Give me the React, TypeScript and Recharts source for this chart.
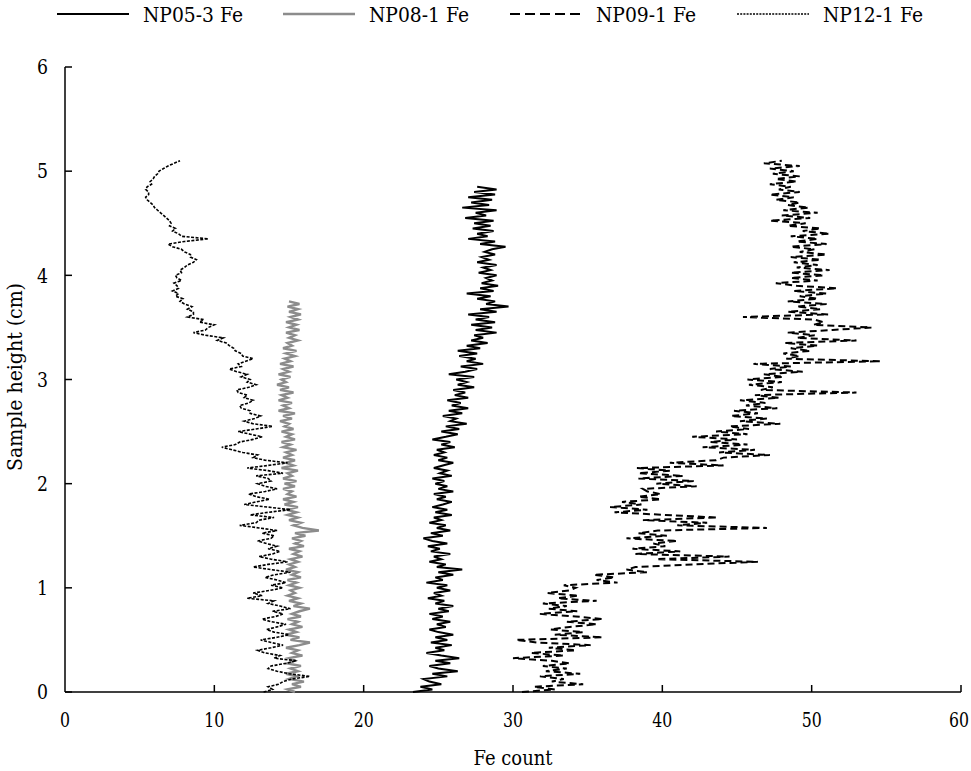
import React from 'react';
import { ScatterChart, Scatter, XAxis, YAxis } from "recharts"

const FONT = "'DejaVu Serif', 'Liberation Serif', 'Times New Roman', serif"

// sampling grids (cm)
const NP05_STEP = 0.025
const NP08_STEP = 0.025
const NP09_STEP = 0.025
const NP12_STEP = 0.025

// Fe counts, bottom to top
const np05 = [
  23.3, 24.6, 23.8, 25.2, 24.4, 24.0, 25.6, 24.6, 26.3, 25.0,
  24.4, 25.8, 24.8, 26.4, 25.2, 24.2, 25.4, 24.8, 25.9, 24.5,
  25.6, 24.8, 26.0, 25.0, 24.4, 25.5, 24.9, 25.8, 24.6, 25.3,
  24.4, 25.7, 25.0, 26.0, 24.8, 25.4, 24.3, 25.2, 24.7, 25.8,
  24.9, 25.6, 24.2, 25.3, 24.8, 26.0, 25.0, 26.6, 24.9, 25.5,
  24.4, 25.2, 24.7, 25.8, 24.5, 25.1, 24.3, 25.6, 24.6, 24.0,
  25.3, 24.5, 25.8, 24.9, 25.5, 24.4, 25.2, 24.7, 25.9, 24.8,
  25.6, 24.6, 25.3, 25.9, 24.9, 25.5, 24.7, 26.0, 25.0, 25.6,
  24.8, 25.4, 24.6, 25.9, 25.1, 25.6, 24.7, 25.3, 26.0, 25.0,
  25.6, 24.7, 25.4, 24.9, 26.1, 25.2, 25.8, 24.6, 25.5, 26.3,
  25.2, 26.4, 25.5, 26.9, 25.8, 26.2, 25.3, 26.6, 25.7, 27.0,
  25.9, 26.5, 25.6, 27.0, 26.1, 26.8, 26.0, 27.4, 26.3, 26.9,
  26.2, 27.4, 25.7, 26.8, 27.6, 26.5, 28.0, 26.9, 27.5, 26.4,
  27.6, 26.3, 27.8, 26.9, 28.3, 27.2, 28.0, 27.4, 28.9, 27.5,
  28.6, 27.2, 28.8, 27.5, 28.4, 27.0, 28.9, 27.8, 29.7, 28.2,
  28.8, 27.6, 28.5, 26.9, 28.7, 27.8, 29.0, 27.9, 28.6, 28.2,
  28.9, 27.7, 28.5, 28.0, 28.9, 27.6, 28.4, 27.9, 28.8, 28.1,
  28.6, 29.5, 27.8, 28.8, 27.0, 28.3, 27.6, 28.7, 27.3, 28.5,
  27.4, 28.7, 26.8, 28.2, 27.5, 28.9, 26.6, 28.4, 27.2, 28.6,
  27.0, 28.8, 27.4, 28.9, 27.6,
]

const np08 = [
  15.4, 14.9, 15.8, 15.2, 16.0, 15.0, 15.5, 14.8, 15.6, 15.1,
  15.8, 14.9, 15.4, 15.0, 15.9, 15.2, 15.6, 14.8, 15.7, 16.4,
  15.1, 15.7, 14.8, 15.5, 15.0, 15.9, 15.2, 15.6, 14.9, 15.8,
  15.2, 15.7, 16.4, 15.3, 15.8, 15.0, 15.6, 14.9, 15.4, 15.1,
  15.7, 15.0, 15.5, 14.9, 15.8, 15.2, 15.6, 14.8, 15.4, 15.0,
  15.6, 15.1, 15.9, 15.3, 15.7, 15.0, 16.0, 15.4, 15.8, 15.2,
  16.1, 15.4, 17.0, 15.9, 15.3, 15.8, 15.0, 15.6, 14.9, 15.5,
  14.8, 15.6, 14.7, 15.3, 14.6, 15.5, 14.9, 15.2, 14.6, 15.4,
  14.7, 15.5, 14.6, 15.2, 14.9, 15.6, 14.5, 15.3, 14.8, 15.4,
  14.6, 15.2, 14.8, 15.5, 14.6, 15.1, 14.5, 15.4, 14.8, 15.2,
  14.5, 15.3, 14.7, 15.0, 14.4, 15.2, 14.6, 15.4, 14.3, 15.0,
  14.6, 15.2, 14.3, 14.9, 14.5, 15.3, 14.4, 15.0, 14.2, 14.8,
  14.5, 15.1, 14.3, 15.0, 14.6, 15.3, 14.4, 15.1, 14.7, 15.4,
  14.8, 15.5, 14.6, 15.2, 14.9, 15.6, 15.0, 15.4, 14.8, 15.7,
  15.0, 15.5, 14.8, 15.6, 15.1, 15.8, 15.0, 15.6, 14.9, 15.7,
  15.0,
]

const np09 = [
  30.6, 32.8, 31.4, 34.7, 32.6, 33.4, 31.8, 34.5, 32.2, 33.6,
  32.0, 33.8, 32.6, 30.0, 33.4, 31.2, 34.2, 32.4, 35.2, 31.6,
  30.2, 36.0, 32.8, 34.7, 32.5, 33.8, 35.6, 33.6, 36.0, 34.2,
  31.8, 34.3, 32.4, 33.6, 32.0, 35.6, 33.0, 34.4, 32.3, 33.8,
  34.2, 33.4, 37.0, 35.6, 36.8, 35.4, 39.0, 37.6, 38.2, 42.0,
  46.4, 39.6, 44.5, 38.2, 41.2, 38.0, 40.2, 39.4, 41.0, 37.6,
  40.3, 38.4, 39.7, 47.0, 41.0, 43.0, 38.7, 43.7, 40.2, 36.8,
  39.0, 36.5, 38.6, 37.3, 39.9, 38.4, 39.9, 39.0, 38.7, 42.3,
  39.6, 42.1, 38.4, 41.4, 38.4, 40.5, 38.3, 44.1, 40.5, 43.6,
  44.1, 47.2, 43.8, 46.2, 42.7, 45.7, 43.2, 45.0, 42.0, 45.7,
  43.6, 45.8, 44.5, 47.9, 45.2, 47.0, 44.6, 46.4, 44.8, 47.7,
  45.6, 46.9, 45.2, 47.8, 46.2, 53.0, 46.6, 47.4, 45.8, 48.0,
  45.7, 48.1, 46.8, 49.4, 47.2, 48.6, 46.1, 54.6, 48.3, 49.2,
  48.1, 49.9, 48.6, 50.4, 48.2, 53.0, 49.0, 50.2, 48.4, 51.4,
  54.0, 50.1, 50.8, 50.2, 45.4, 51.1, 48.4, 50.6, 49.0, 51.0,
  48.4, 50.4, 49.2, 51.0, 48.8, 51.7, 49.0, 47.6, 50.4, 48.6,
  50.8, 48.6, 51.2, 49.0, 50.4, 48.8, 50.6, 48.6, 51.0, 49.2,
  50.2, 48.6, 51.0, 49.0, 50.4, 48.6, 51.2, 49.4, 50.6, 48.4,
  49.6, 47.2, 49.9, 48.0, 50.4, 48.1, 49.8, 48.4, 49.2, 47.6,
  48.8, 47.2, 49.2, 47.8, 48.6, 47.2, 49.0, 47.6, 49.2, 47.4,
  48.8, 47.2, 49.2, 46.8, 48.0,
]

const np12 = [
  13.3, 13.9, 13.6, 14.3, 14.6, 15.2, 16.4, 15.0, 14.2, 13.6,
  13.8, 14.8, 15.5, 14.0, 14.4, 13.4, 12.9, 13.8, 14.6, 13.8,
  13.1, 14.2, 15.0, 14.0, 13.5, 14.2, 14.8, 13.8, 13.2, 14.1,
  14.6, 13.9, 15.1, 14.4, 13.6, 14.0, 12.2, 13.2, 12.6, 13.7,
  14.6, 13.8, 14.8, 14.2, 13.4, 14.0, 15.1, 13.8, 12.6, 13.6,
  14.9, 13.8, 13.0, 13.9, 14.4, 13.6, 14.2, 13.5, 12.9, 13.8,
  14.0, 13.2, 14.2, 13.0, 11.7, 12.8, 13.0, 14.0, 12.4, 13.6,
  15.1, 13.6, 12.0, 12.8, 13.7, 12.8, 12.3, 13.4, 14.2, 13.4,
  12.9, 13.8, 13.6, 12.8, 14.6, 13.6, 12.2, 13.6, 14.9, 13.4,
  12.6, 12.9, 11.9, 11.2, 10.5, 11.4, 11.7, 12.6, 13.2, 12.4,
  11.6, 12.8, 13.9, 12.6, 12.0, 12.7, 13.1, 12.4, 12.4, 11.8,
  11.7, 12.3, 12.6, 12.0, 12.2, 11.6, 11.5, 12.3, 12.8, 12.2,
  12.4, 11.8, 12.2, 11.5, 11.0, 11.8, 11.6, 12.1, 12.6, 11.9,
  11.8, 11.4, 11.3, 11.0, 10.8, 10.2, 10.6, 9.4, 8.6, 9.4,
  9.6, 10.0, 9.0, 9.3, 8.2, 8.6, 8.6, 8.2, 8.5, 8.0,
  7.7, 7.9, 7.4, 7.6, 7.2, 7.6, 7.5, 7.3, 7.8, 7.5,
  7.4, 7.8, 7.7, 8.0, 8.2, 8.6, 8.8, 8.4, 8.4, 8.0,
  7.8, 7.2, 6.9, 8.0, 9.6, 7.8, 7.6, 7.2, 7.4, 7.0,
  7.1, 7.0, 6.8, 6.6, 6.4, 6.2, 6.0, 5.9, 5.7, 5.5,
  5.4, 5.6, 5.6, 5.4, 5.5, 5.8, 5.7, 5.9, 6.0, 6.2,
  6.3, 6.6, 6.9, 7.3, 7.7,
]

const xTicks = [0, 10, 20, 30, 40, 50, 60]
const yTicks = [0, 1, 2, 3, 4, 5, 6]

const toPoints = (values: number[], step: number) =>
  values.map((v, i) => ({ x: v, y: +(i * step).toFixed(3) }))

const series = [
  { name: "NP05-3 Fe", data: toPoints(np05, NP05_STEP), stroke: "#000", width: 2, dash: undefined, legendDash: undefined },
  { name: "NP08-1 Fe", data: toPoints(np08, NP08_STEP), stroke: "#8c8c8c", width: 2.4, dash: undefined, legendDash: undefined },
  { name: "NP09-1 Fe", data: toPoints(np09, NP09_STEP), stroke: "#000", width: 2, dash: "7 4", legendDash: "10 5" },
  { name: "NP12-1 Fe", data: toPoints(np12, NP12_STEP), stroke: "#000", width: 1.6, dash: "3 1.5", legendDash: "2 1.2" },
]

const legendPos = [57, 283, 510, 737]

// DejaVu Serif is wider than Times, so squeeze text to the reference widths
const SerifText = (p: any) => (
  <text
    x={p.x}
    y={p.y}
    dy={p.dy}
    textAnchor={p.anchor || "start"}
    fontSize={p.size}
    fontFamily={FONT}
    fill="#000"
    textLength={p.w}
    lengthAdjust="spacingAndGlyphs"
    transform={p.transform}
  >
    {p.children}
  </text>
)

const YTick = (props: any) => {
  const { x, y, payload } = props
  return (
    <g>
      <line x1={x + 17} x2={x + 24} y1={y} y2={y} stroke="#000" strokeWidth={1.5} />
      <SerifText x={x} y={y} dy="0.36em" anchor="end" size={20} w={11}>{payload.value}</SerifText>
    </g>
  )
}

const XTick = (props: any) => {
  const { x, y, payload } = props
  const label = String(payload.value)
  // last label sits on the page edge, nudge it in a little
  const cx = payload.value === 60 ? x - 2 : x
  return (
    <g>
      {payload.value !== 0 && <line x1={x} x2={x} y1={y - 20} y2={y - 27} stroke="#000" strokeWidth={1.5} />}
      <SerifText x={cx} y={y} dy="0.74em" anchor="middle" size={20} w={label.length * 10}>{label}</SerifText>
    </g>
  )
}

export default function App() {
  return (
    <div style={{ position: "absolute", left: 0, top: 0, width: 971, height: 771, background: "#fff", fontFamily: FONT }}>
      <ScatterChart width={971} height={771} margin={{ top: 67, right: 10, bottom: 0, left: 0 }}>
        <XAxis
          type="number"
          dataKey="x"
          domain={[0, 60]}
          ticks={xTicks}
          height={79}
          tickSize={0}
          tickMargin={20}
          tickLine={false}
          axisLine={{ stroke: "#000", strokeWidth: 1.5 }}
          tick={<XTick />}
        />
        <YAxis
          type="number"
          dataKey="y"
          domain={[0, 6]}
          ticks={yTicks}
          width={65}
          tickSize={0}
          tickMargin={17}
          tickLine={false}
          axisLine={{ stroke: "#000", strokeWidth: 1.5 }}
          tick={<YTick />}
        />
        {series.map((s) => (
          <Scatter
            key={s.name}
            name={s.name}
            data={s.data}
            fill={s.stroke}
            line={{ stroke: s.stroke, strokeWidth: s.width, strokeDasharray: s.dash, fill: "none" }}
            shape={() => <g />}
            isAnimationActive={false}
          />
        ))}
      </ScatterChart>
      <svg width={971} height={771} style={{ position: "absolute", left: 0, top: 0, pointerEvents: "none" }}>
        {series.map((s, i) => (
          <g key={s.name}>
            <line x1={legendPos[i]} x2={legendPos[i] + 72} y1={14} y2={14} stroke={s.stroke} strokeWidth={s.width}
              strokeDasharray={s.legendDash} />
            <SerifText x={legendPos[i] + 86} y={14} dy="0.36em" size={21} w={100}>{s.name}</SerifText>
          </g>
        ))}
        <SerifText x={513} y={765} anchor="middle" size={21} w={79}>Fe count</SerifText>
        <SerifText x={22} y={377} anchor="middle" size={21} w={188} transform="rotate(-90 22 377)">Sample height (cm)</SerifText>
      </svg>
    </div>
  )
}
